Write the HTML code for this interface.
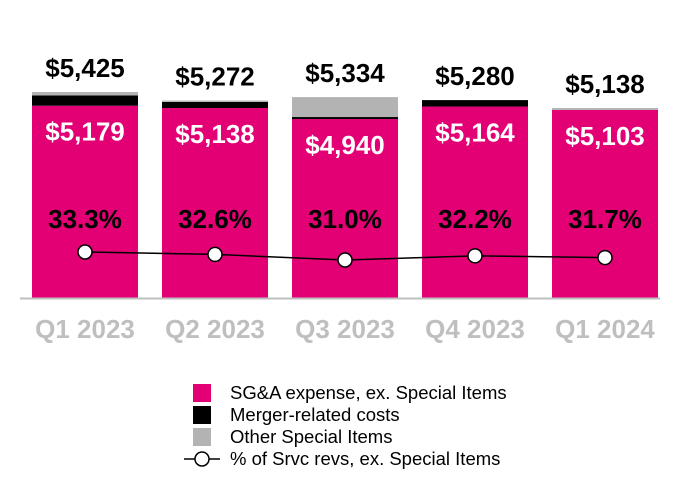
<!DOCTYPE html>
<html><head><meta charset="utf-8"><style>
body{margin:0;background:#fff;}
svg{display:block;font-family:"Liberation Sans",Arial,sans-serif;}
</style></head><body>
<svg id="chart" width="690" height="500"></svg>
<script>
const categories=["Q1 2023","Q2 2023","Q3 2023","Q4 2023","Q1 2024"];
const sgaValues=[5179,5138,4940,5164,5103];
const mergerValues=[185,110,36,116,0];
const otherValues=[61,24,358,0,35];
const totalLabels=["$5,425","$5,272","$5,334","$5,280","$5,138"];
const pctValues=[33.3,32.6,31.0,32.2,31.7];

const NS="http://www.w3.org/2000/svg";
const svg=document.getElementById('chart');
const baseY=298, vMin=1727, pxPer=0.0557;
const yVal=v=>baseY-(v-vMin)*pxPer;
const xCenter=i=>85+i*130;
const barW=106;
const yPct=p=>252+(33.3-p)*3.48;
function mk(tag,attrs){const e=document.createElementNS(NS,tag);for(const k in attrs)e.setAttribute(k,attrs[k]);svg.appendChild(e);return e;}
function txt(x,y,s,attrs){const e=mk('text',Object.assign({x:x,y:y,'text-anchor':'middle'},attrs));e.textContent=s;return e;}

categories.forEach((c,i)=>{
  const x=xCenter(i)-barW/2;
  const s=sgaValues[i], m=mergerValues[i], o=otherValues[i];
  let r=mk('rect',{x:x,y:yVal(s),width:barW,height:baseY-yVal(s),fill:'#e20074'});
  
  
  if(m>0){r=mk('rect',{x:x,y:yVal(s+m),width:barW,height:yVal(s)-yVal(s+m),fill:'#000'});
  
  }
  if(o>0){r=mk('rect',{x:x,y:yVal(s+m+o),width:barW,height:yVal(s+m)-yVal(s+m+o),fill:'#b3b3b3'});
  
  }
  let t=txt(xCenter(i),yVal(s+m+o)-15,totalLabels[i],{'font-size':'26','font-weight':'bold',fill:'#000'});
  
  
  t=txt(xCenter(i),yVal(s)+35,'$'+s.toLocaleString('en-US'),{'font-size':'26','font-weight':'bold',fill:'#fff'});
  
  
  t=txt(xCenter(i),228,pctValues[i].toFixed(1)+'%',{'font-size':'26','font-weight':'bold',fill:'#000'});
  
  
  t=txt(xCenter(i),338,c,{'font-size':'26','font-weight':'bold',fill:'#bfbfbf'});
  
  
});
let ax=mk('line',{x1:20,y1:298.5,x2:660,y2:298.5,stroke:'#bfbfbf','stroke-width':2});


const pl=mk('polyline',{points:pctValues.map((p,i)=>xCenter(i)+','+yPct(p)).join(' '),fill:'none',stroke:'#000','stroke-width':1.5});


pctValues.forEach((p,i)=>{const c=mk('circle',{cx:xCenter(i),cy:yPct(p),r:7,fill:'#fff',stroke:'#000','stroke-width':1.5});

});

const leg=[["#e20074","SG&A expense, ex. Special Items",393],["#000","Merger-related costs",415],["#b3b3b3","Other Special Items",437]];
leg.forEach((l,i)=>{
  const r=mk('rect',{x:193,y:l[2]-9,width:18,height:18,fill:l[0]});
  
  
  const t=mk('text',{x:230,y:l[2]+6,'font-size':'18.5',fill:'#000'});t.textContent=l[1];
  
  
});
let ll=mk('line',{x1:184,y1:459,x2:220,y2:459,stroke:'#000','stroke-width':1.5});


let lc=mk('circle',{cx:202,cy:459,r:7,fill:'#fff',stroke:'#000','stroke-width':1.5});


let lt=mk('text',{x:230,y:465,'font-size':'18.5',fill:'#000'});lt.textContent='% of Srvc revs, ex. Special Items';


</script>
</body></html>
